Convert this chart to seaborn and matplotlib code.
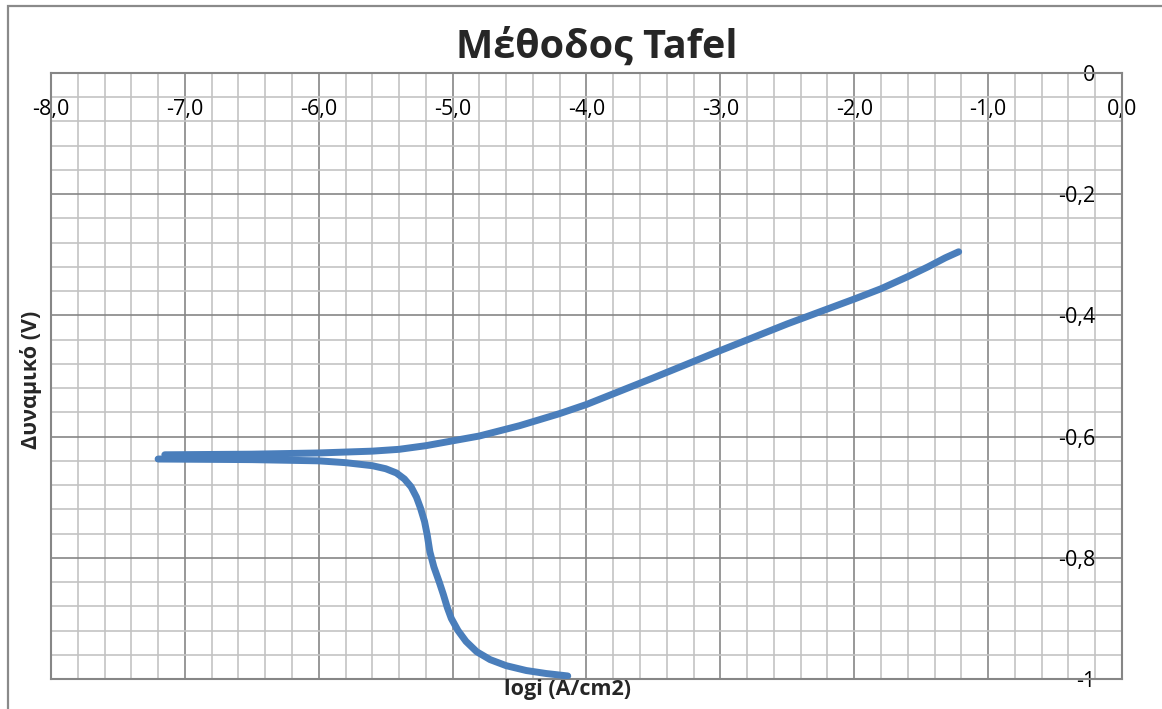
import matplotlib
matplotlib.use("Agg")
import matplotlib.pyplot as plt
import seaborn as sns
import numpy as np
import pandas as pd
from matplotlib.patches import Rectangle

# Anodic branch (log current density vs potential)
anodic_logi = [-7.15, -6.5, -6.0, -5.6, -5.4, -5.2, -5.0, -4.8, -4.5, -4.2, -4.0,
               -3.5, -3.0, -2.5, -2.0, -1.8, -1.6, -1.45, -1.32, -1.22]
anodic_E = [-0.630, -0.629, -0.627, -0.624, -0.621, -0.615, -0.607, -0.599, -0.582,
            -0.562, -0.547, -0.503, -0.458, -0.414, -0.373, -0.356, -0.336, -0.320,
            -0.305, -0.295]

# Cathodic branch
cathodic_logi = [-7.2, -6.5, -6.0, -5.8, -5.6, -5.5, -5.42, -5.36, -5.31, -5.27, -5.24,
                 -5.21, -5.19, -5.17, -5.14, -5.10, -5.07, -5.04, -5.01, -4.96, -4.90,
                 -4.82, -4.72, -4.6, -4.45, -4.3, -4.14]
cathodic_E = [-0.637, -0.638, -0.640, -0.643, -0.648, -0.653, -0.660, -0.670, -0.683,
              -0.700, -0.718, -0.740, -0.762, -0.790, -0.815, -0.840, -0.860, -0.882,
              -0.900, -0.920, -0.938, -0.955, -0.968, -0.978, -0.986, -0.991, -0.995]

x_ticks = [-8, -7, -6, -5, -4, -3, -2, -1, 0]
x_tick_labels = ["-8,0", "-7,0", "-6,0", "-5,0", "-4,0", "-3,0", "-2,0", "-1,0", "0,0"]
y_ticks = [0, -0.2, -0.4, -0.6, -0.8, -1]
y_tick_labels = ["0", "-0,2", "-0,4", "-0,6", "-0,8", "-1"]

title = "Μέθοδος Tafel"
x_label = "logi (A/cm2)"
y_label = "Δυναμικό (V)"

sns.set_theme(style="white")
plt.rcParams["font.family"] = ["Open Sans", "DejaVu Sans"]

LINE = "#4A7EBB"
MAJOR = "#868686"
MINOR = "#C3C3C3"

fig = plt.figure(figsize=(11.62, 7.09), dpi=100)
ax = fig.add_axes([51 / 1162, 1 - 679 / 709, (1122 - 51) / 1162, (679 - 73) / 709])

df = pd.concat([
    pd.DataFrame({"logi": anodic_logi, "E": anodic_E, "branch": "anodic"}),
    pd.DataFrame({"logi": cathodic_logi, "E": cathodic_E, "branch": "cathodic"}),
])
for name, part in df.groupby("branch"):
    sns.lineplot(data=part, x="logi", y="E", ax=ax, color=LINE, lw=5,
                 sort=False, estimator=None, solid_capstyle="round",
                 solid_joinstyle="round", zorder=5)

ax.set_xlim(-8, 0)
ax.set_ylim(-1, 0)
ax.set_xticks(x_ticks)
ax.set_xticks(np.arange(-8, 0.001, 0.2), minor=True)
ax.set_yticks(y_ticks)
ax.set_yticks(np.arange(-1, 0.001, 0.04), minor=True)
ax.set_xticklabels(x_tick_labels)
ax.set_yticklabels(y_tick_labels)

ax.grid(which="minor", color=MINOR, lw=1.2, zorder=1)
ax.grid(which="major", color=MAJOR, lw=1.2, zorder=2)
ax.set_axisbelow(True)

for s in ax.spines.values():
    s.set_color(MAJOR)
    s.set_linewidth(1.5)

ax.xaxis.tick_top()
ax.tick_params(axis="x", which="both", length=0, top=False, bottom=False,
               labeltop=True, labelbottom=False, pad=-34, labelsize=15.5,
               labelcolor="black")
ax.yaxis.tick_right()
ax.tick_params(axis="y", which="both", length=0, left=False, right=False,
               labelright=True, labelleft=False, pad=-19, labelsize=15.5,
               labelcolor="black")
for lbl in ax.get_yticklabels():
    lbl.set_horizontalalignment("right")

ax.set_xlabel("")
ax.set_ylabel("")

fig.text(597 / 1162, 1 - 47 / 709, title, ha="center", va="center",
         fontsize=28.5, fontweight="bold")
fig.text(567 / 1162, 1 - 690 / 709, x_label, ha="center", va="center",
         fontsize=15.5, fontweight="bold")
fig.text(31 / 1162, 1 - 380 / 709, y_label, ha="center", va="center",
         fontsize=15.5, fontweight="bold", rotation=90)

fig.patches.append(Rectangle((8 / 1162, -0.1), 1.2, 1 - 6 / 709 + 0.1,
                             transform=fig.transFigure, fill=False,
                             edgecolor="#8a8a8a", lw=1.6))

fig.savefig("out.png", dpi=100, facecolor="white")
